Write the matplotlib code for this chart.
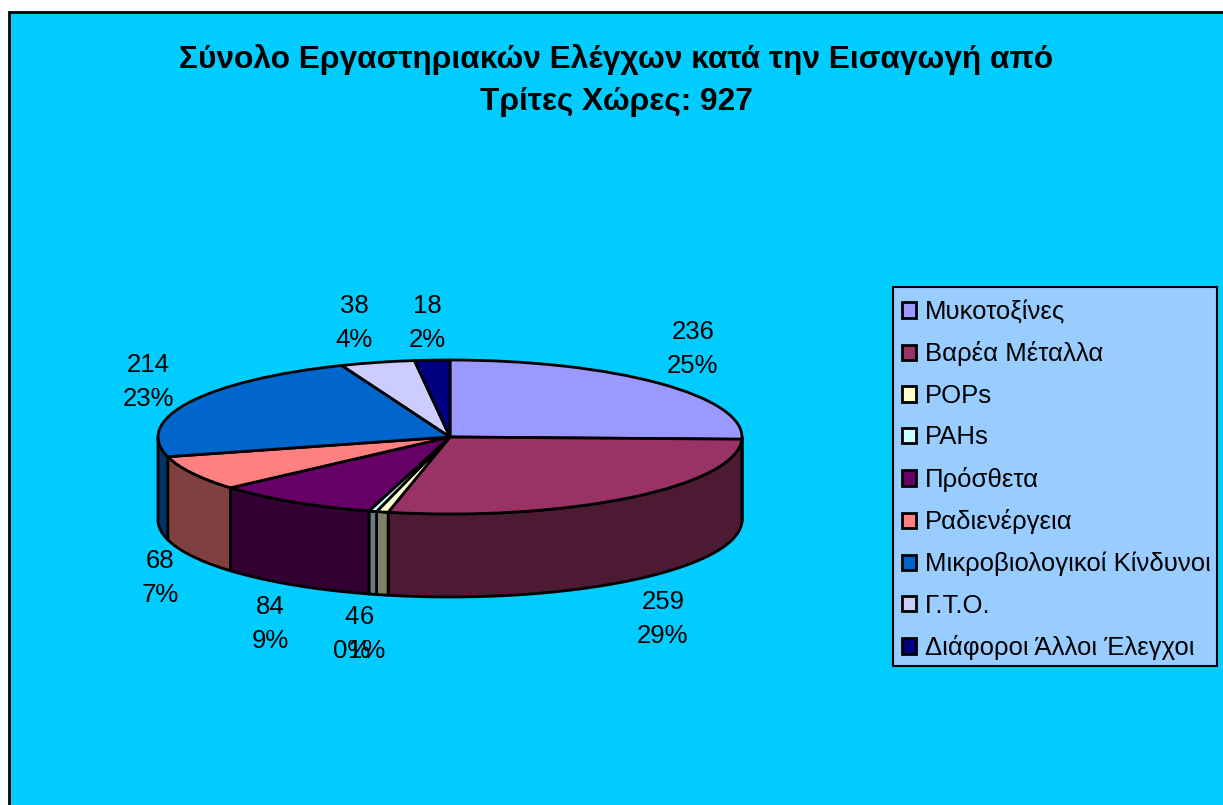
import numpy as np
import matplotlib
matplotlib.use("Agg")
import matplotlib.pyplot as plt
from matplotlib.colors import to_rgb
from matplotlib.patches import Rectangle

W, H = 1223, 805

labels = ["Μυκοτοξίνες", "Βαρέα Μέταλλα", "POPs", "PAHs", "Πρόσθετα", "Ραδιενέργεια",
          "Μικροβιολογικοί Κίνδυνοι", "Γ.Τ.Ο.", "Διάφοροι Άλλοι Έλεγχοι"]
values = [236, 259, 6, 4, 84, 68, 214, 38, 18]
percents = [25, 29, 1, 0, 9, 7, 23, 4, 2]
colors = ["#9999FF", "#993366", "#FFFFCC", "#CCFFFF", "#660066", "#FF8080", "#0066CC", "#CCCCFF", "#000080"]

# label centres in pixels, (x, y of the value line)
label_pos = [(693, 331), (663, 601), (367, 616), (352, 616), (270, 606),
             (160, 560), (148, 364), (354, 305), (427, 305)]

# ellipse of the pie top in pixels
cx, cy, rx, ry, depth = 450, 437, 292, 77, 83

plt.rcParams["font.family"] = ["Liberation Sans", "DejaVu Sans"]

fig = plt.figure(figsize=(W / 100, H / 100), dpi=100, facecolor="white")
fig.patches.append(Rectangle((9 / W, -0.01), 1.01, 1 - 12 / H + 0.01, transform=fig.transFigure,
                             facecolor="#00CCFF", edgecolor="black", linewidth=2, zorder=-1))
# legend box, drawn apart so its size does not follow the text
fig.patches.append(Rectangle((893 / W, 1 - 666 / H), 324 / W, 379 / H, transform=fig.transFigure,
                             facecolor="#99CCFF", edgecolor="black", linewidth=1.5, zorder=1))

ax = fig.add_axes([0, 0, 1, 1])
ax.patch.set_alpha(0)
wedges, _ = ax.pie(values, colors=colors, startangle=90, counterclock=False,
                   wedgeprops={"edgecolor": "black", "linewidth": 2})
ax.set_aspect("auto")
ax.set_xlim(-cx / rx, (W - cx) / rx)
ax.set_ylim((cy - H) / ry, cy / ry)

# side wall, only the front half of the circle shows
d = depth / ry
edges = np.cumsum([0] + values) / sum(values) * 360
for i, c in enumerate(colors):
    a0, a1 = max(edges[i], 90), min(edges[i + 1], 270)
    if a1 <= a0:
        continue
    t = np.radians(np.linspace(a0, a1, 60))
    x, y = np.sin(t), np.cos(t)
    shade = tuple(v * 0.5 for v in to_rgb(c))
    ax.fill(np.r_[x, x[::-1]], np.r_[y, y[::-1] - d], facecolor=shade, edgecolor="black",
            linewidth=2, zorder=0.5, joinstyle="round")

for v, p, (px, py) in zip(values, percents, label_pos):
    fig.text(px / W, 1 - (py + 18) / H, "{}\n{}%".format(v, p), ha="center", va="center",
             fontsize=18.5, linespacing=1.5, color="black")

fig.text(616 / W, 1 - 80.5 / H, "Σύνολο Εργαστηριακών Ελέγχων κατά την Εισαγωγή από\nΤρίτες Χώρες: 927",
         ha="center", va="center", fontsize=22.75, fontweight="bold", linespacing=1.54)

leg = fig.legend(wedges, labels, loc="upper left", bbox_to_anchor=(902 / W, 1 - 300 / H),
                 fontsize=18.5, frameon=False, handlelength=0.55, handleheight=0.55, handletextpad=0.35,
                 labelspacing=0.68, borderpad=0, borderaxespad=0)

fig.savefig("out.png", dpi=100, facecolor="white")
